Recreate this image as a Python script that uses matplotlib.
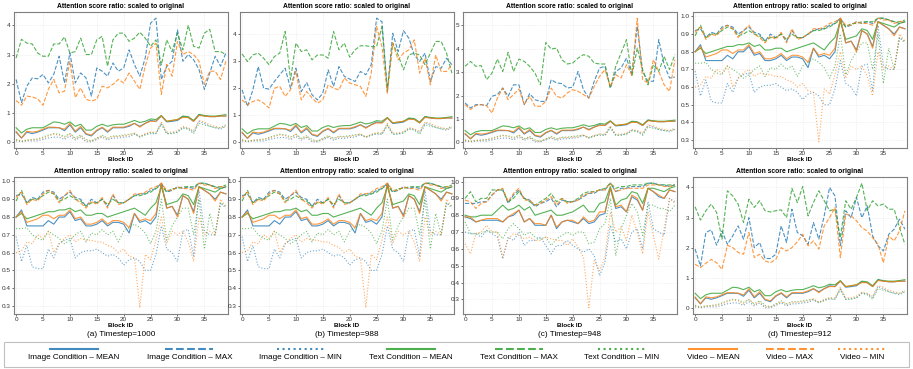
import numpy as np
import matplotlib
matplotlib.use("Agg")
import matplotlib.pyplot as plt
from matplotlib.lines import Line2D
from matplotlib.patches import Rectangle
from matplotlib.ticker import MultipleLocator, FormatStrFormatter

plt.rcParams["font.family"] = ["Liberation Sans", "DejaVu Sans"]

blocks = list(range(40))

captions = ["(a) Timestep=1000", "(b) Timestep=988", "(c) Timestep=948", "(d) Timestep=912"]
score_title = "Attention score ratio: scaled to original"
entropy_title = "Attention entropy ratio: scaled to original"

# ---- score ratio: MEAN / MIN look the same in every timestep ----
score_img_mean = [0.35, 0.15, 0.35, 0.30, 0.35, 0.42, 0.50, 0.50, 0.50, 0.40, 0.60, 0.35, 0.50, 0.28, 0.22,
                  0.40, 0.50, 0.35, 0.50, 0.50, 0.50, 0.55, 0.65, 0.55, 0.65, 0.75, 0.72, 0.90, 0.70, 0.72,
                  0.75, 0.88, 0.85, 0.72, 0.95, 0.90, 0.88, 0.88, 0.90, 0.90]
score_txt_mean = [0.50, 0.32, 0.45, 0.50, 0.50, 0.50, 0.60, 0.70, 0.68, 0.62, 0.70, 0.55, 0.62, 0.42, 0.42,
                  0.55, 0.62, 0.55, 0.60, 0.62, 0.62, 0.68, 0.75, 0.68, 0.72, 0.80, 0.78, 0.92, 0.72, 0.75,
                  0.78, 0.90, 0.88, 0.75, 0.95, 0.92, 0.90, 0.90, 0.92, 0.95]
score_vid_mean = [0.38, 0.15, 0.38, 0.35, 0.38, 0.45, 0.52, 0.52, 0.50, 0.45, 0.65, 0.38, 0.55, 0.30, 0.25,
                  0.42, 0.52, 0.38, 0.52, 0.52, 0.52, 0.58, 0.65, 0.52, 0.65, 0.72, 0.72, 0.90, 0.72, 0.75,
                  0.78, 0.85, 0.85, 0.72, 0.92, 0.90, 0.88, 0.88, 0.90, 0.90]
score_img_min = [0.05, 0.02, 0.05, 0.05, 0.05, 0.10, 0.15, 0.18, 0.18, 0.10, 0.22, 0.08, 0.18, 0.02, 0.02,
                 0.10, 0.18, 0.08, 0.15, 0.15, 0.18, 0.20, 0.28, 0.18, 0.28, 0.30, 0.30, 0.65, 0.30, 0.32,
                 0.35, 0.50, 0.48, 0.35, 0.72, 0.65, 0.55, 0.50, 0.45, 0.55]
score_txt_min = [0.10, 0.05, 0.08, 0.10, 0.12, 0.18, 0.25, 0.30, 0.28, 0.20, 0.30, 0.15, 0.25, 0.10, 0.05,
                 0.15, 0.25, 0.15, 0.22, 0.22, 0.25, 0.28, 0.30, 0.20, 0.25, 0.35, 0.30, 0.62, 0.30, 0.30,
                 0.35, 0.50, 0.45, 0.30, 0.65, 0.60, 0.55, 0.50, 0.50, 0.60]
score_vid_min = [0.08, 0.03, 0.08, 0.08, 0.10, 0.15, 0.22, 0.28, 0.25, 0.15, 0.30, 0.12, 0.22, 0.05, 0.05,
                 0.12, 0.22, 0.12, 0.20, 0.20, 0.22, 0.25, 0.32, 0.20, 0.30, 0.35, 0.35, 0.70, 0.35, 0.35,
                 0.40, 0.55, 0.50, 0.40, 0.75, 0.70, 0.60, 0.55, 0.50, 0.55]

# ---- score ratio MAX, per timestep ----
score_img_max_a = [2.15, 1.36, 1.92, 2.20, 2.17, 2.32, 2.03, 2.32, 2.94, 2.03, 3.05, 2.03, 2.37, 2.20, 1.58,
                   2.54, 2.43, 2.26, 2.71, 2.43, 2.54, 3.16, 2.66, 2.26, 2.88, 4.07, 4.24, 2.15, 2.60, 2.77,
                   3.84, 2.77, 3.00, 2.82, 2.49, 1.81, 2.37, 2.94, 2.60, 3.05]
score_txt_max_a = [2.88, 3.52, 3.39, 3.36, 3.05, 2.94, 2.94, 3.36, 3.36, 3.60, 3.05, 3.10, 3.56, 3.00, 3.00,
                   3.50, 3.62, 2.60, 3.50, 3.73, 3.73, 3.45, 3.56, 3.76, 3.56, 3.28, 3.50, 2.65, 3.50, 3.10,
                   3.73, 3.16, 4.00, 3.28, 3.22, 3.73, 3.86, 3.10, 3.10, 3.00]
score_vid_max_a = [1.43, 1.27, 1.58, 1.55, 1.49, 1.27, 1.81, 2.15, 1.69, 1.75, 2.77, 1.53, 1.86, 1.47, 1.41,
                   1.47, 1.92, 1.86, 1.98, 2.15, 2.03, 2.37, 2.09, 1.81, 2.60, 3.22, 3.39, 1.64, 2.66, 2.26,
                   3.45, 3.00, 3.10, 3.00, 2.77, 1.98, 2.43, 2.43, 2.15, 2.77]

score_img_max_b = [1.94, 1.33, 1.94, 2.80, 2.00, 1.97, 2.25, 2.50, 2.74, 2.00, 2.74, 1.88, 2.21, 1.76, 1.57,
                   1.82, 2.68, 2.07, 2.80, 2.44, 2.34, 2.25, 2.62, 2.50, 2.87, 4.59, 4.46, 1.88, 4.03, 3.36,
                   4.13, 3.85, 3.23, 2.99, 3.30, 2.25, 2.80, 2.74, 3.11, 2.87]
score_txt_max_b = [3.27, 2.99, 3.23, 3.30, 3.11, 2.87, 3.17, 3.30, 4.10, 2.31, 3.67, 3.36, 3.42, 3.05, 3.23,
                   3.23, 3.11, 4.10, 3.42, 3.67, 3.15, 3.42, 3.57, 3.57, 3.54, 3.54, 4.28, 1.94, 3.67, 3.23,
                   2.68, 3.23, 3.30, 3.23, 2.87, 3.30, 3.73, 3.73, 3.30, 2.56]
score_vid_max_b = [1.57, 1.39, 1.51, 1.57, 1.45, 1.27, 2.00, 2.07, 1.70, 1.94, 2.62, 1.57, 1.88, 1.64, 1.45,
                   1.57, 2.13, 2.00, 1.94, 2.38, 2.19, 2.13, 2.07, 1.70, 2.56, 4.28, 3.54, 1.82, 3.67, 3.05,
                   3.30, 3.42, 3.79, 2.56, 3.11, 2.13, 3.23, 2.62, 2.62, 2.87]

score_img_max_c = [1.68, 1.47, 1.61, 1.61, 1.57, 1.97, 2.04, 2.32, 1.97, 2.46, 2.46, 1.61, 2.08, 1.82, 1.75,
                   1.75, 2.68, 2.54, 2.51, 2.32, 2.36, 3.03, 2.25, 1.89, 2.61, 3.18, 3.25, 2.32, 3.03, 3.18,
                   3.60, 2.89, 4.96, 3.03, 2.61, 2.61, 4.39, 3.32, 2.75, 2.79]
score_txt_max_c = [3.25, 3.46, 3.25, 3.28, 2.68, 2.96, 3.56, 3.03, 3.85, 3.03, 3.56, 3.46, 3.25, 2.96, 2.46,
                   4.27, 3.99, 4.03, 3.53, 3.35, 3.39, 3.60, 3.75, 3.68, 3.39, 3.35, 3.35, 2.32, 3.25, 3.82,
                   4.39, 2.82, 4.03, 3.11, 2.46, 3.32, 3.03, 3.68, 3.11, 3.75]
score_vid_max_c = [1.61, 1.40, 1.57, 1.61, 1.57, 1.25, 1.89, 2.32, 1.82, 2.04, 2.28, 1.61, 1.97, 1.54, 1.54,
                   1.75, 2.32, 1.97, 1.89, 2.11, 2.25, 2.18, 2.04, 1.89, 2.39, 2.82, 3.11, 2.39, 2.89, 2.75,
                   3.32, 2.89, 5.31, 2.68, 2.54, 3.53, 3.03, 2.46, 2.18, 3.53]

score_img_max_d = [1.96, 1.40, 2.51, 2.60, 2.09, 2.56, 2.12, 2.40, 2.73, 2.29, 3.00, 2.01, 2.18, 1.65, 1.65,
                   1.79, 2.73, 2.18, 3.28, 2.51, 2.40, 2.12, 2.84, 2.29, 3.06, 4.00, 3.72, 2.07, 3.23, 3.00,
                   3.67, 3.00, 3.39, 2.40, 2.07, 1.90, 2.45, 2.62, 2.95, 2.62]
score_txt_max_d = [3.36, 2.92, 3.23, 3.45, 3.17, 2.29, 3.89, 3.72, 3.45, 2.84, 3.61, 3.34, 3.56, 3.23, 3.19,
                   3.23, 3.26, 3.00, 3.97, 3.50, 4.03, 3.06, 3.50, 3.89, 3.56, 3.23, 3.28, 2.34, 3.56, 3.28,
                   3.67, 4.14, 3.23, 3.56, 3.39, 3.45, 3.28, 3.28, 2.67, 2.12]
score_vid_max_d = [1.46, 1.35, 1.49, 1.62, 1.51, 1.29, 2.09, 2.01, 1.85, 1.79, 2.51, 1.68, 1.79, 1.57, 1.51,
                   1.62, 2.01, 1.90, 2.01, 2.20, 2.45, 2.07, 2.23, 1.96, 2.73, 3.00, 3.34, 1.68, 3.12, 3.06,
                   2.90, 2.67, 2.56, 2.34, 2.12, 1.51, 2.40, 2.23, 2.56, 3.23]

# ---- entropy ratio, timesteps 1000 / 988 / 912 ----
ent_img_max = [0.92, 0.93, 0.88, 0.91, 0.90, 0.94, 0.95, 0.94, 0.90, 0.92, 0.94, 0.91, 0.90, 0.86, 0.90,
               0.88, 0.90, 0.86, 0.92, 0.88, 0.88, 0.90, 0.92, 0.93, 0.93, 0.95, 0.96, 0.99, 0.94, 0.95,
               0.97, 0.96, 0.97, 0.96, 0.99, 0.99, 0.98, 0.97, 0.96, 0.97]
ent_vid_max = [0.91, 0.94, 0.87, 0.90, 0.89, 0.93, 0.95, 0.93, 0.88, 0.92, 0.95, 0.90, 0.88, 0.85, 0.89,
               0.87, 0.91, 0.85, 0.93, 0.87, 0.88, 0.90, 0.93, 0.93, 0.94, 0.96, 0.97, 0.99, 0.95, 0.95,
               0.97, 0.96, 0.96, 0.95, 0.99, 0.98, 0.98, 0.96, 0.97, 0.97]
ent_txt_max = [0.89, 0.95, 0.88, 0.90, 0.90, 0.92, 0.94, 0.93, 0.89, 0.90, 0.92, 0.90, 0.89, 0.86, 0.88,
               0.88, 0.90, 0.87, 0.90, 0.88, 0.88, 0.90, 0.92, 0.92, 0.93, 0.94, 0.96, 0.98, 0.94, 0.96,
               0.96, 0.97, 0.97, 0.97, 0.99, 0.99, 0.98, 0.97, 0.97, 0.98]
ent_txt_mean = [0.80, 0.82, 0.79, 0.80, 0.81, 0.82, 0.83, 0.83, 0.84, 0.84, 0.85, 0.83, 0.84, 0.81, 0.81,
                0.82, 0.82, 0.80, 0.81, 0.82, 0.83, 0.84, 0.85, 0.83, 0.81, 0.85, 0.88, 0.97, 0.87, 0.88,
                0.89, 0.93, 0.92, 0.87, 0.97, 0.96, 0.95, 0.94, 0.96, 0.97]
ent_img_mean = [0.80, 0.84, 0.75, 0.75, 0.75, 0.75, 0.78, 0.76, 0.80, 0.80, 0.83, 0.78, 0.79, 0.75, 0.75,
                0.76, 0.78, 0.75, 0.77, 0.77, 0.76, 0.71, 0.82, 0.77, 0.78, 0.76, 0.80, 0.99, 0.85, 0.86,
                0.81, 0.92, 0.90, 0.83, 0.97, 0.95, 0.93, 0.90, 0.94, 0.93]
ent_vid_mean = [0.80, 0.83, 0.77, 0.78, 0.79, 0.81, 0.81, 0.79, 0.81, 0.81, 0.84, 0.79, 0.80, 0.76, 0.76,
                0.77, 0.79, 0.76, 0.78, 0.78, 0.77, 0.74, 0.82, 0.78, 0.79, 0.78, 0.82, 0.99, 0.85, 0.86,
                0.80, 0.92, 0.90, 0.82, 0.97, 0.95, 0.93, 0.89, 0.94, 0.93]
ent_txt_min = [0.735, 0.735, 0.74, 0.70, 0.68, 0.67, 0.72, 0.70, 0.68, 0.65, 0.67, 0.70, 0.72, 0.66, 0.71,
               0.70, 0.73, 0.70, 0.72, 0.66, 0.72, 0.74, 0.76, 0.74, 0.71, 0.65, 0.72, 0.90, 0.67, 0.75,
               0.80, 0.85, 0.85, 0.70, 0.90, 0.62, 0.82, 0.70, 0.88, 0.86]
ent_vid_min = [0.60, 0.61, 0.66, 0.65, 0.70, 0.68, 0.72, 0.60, 0.65, 0.68, 0.70, 0.66, 0.68, 0.67, 0.67,
               0.66, 0.66, 0.64, 0.63, 0.60, 0.62, 0.58, 0.57, 0.29, 0.59, 0.56, 0.67, 0.80, 0.65, 0.72,
               0.70, 0.72, 0.66, 0.55, 0.80, 0.70, 0.72, 0.70, 0.90, 0.86]
ent_img_min = [0.69, 0.55, 0.64, 0.52, 0.51, 0.51, 0.62, 0.57, 0.65, 0.67, 0.68, 0.57, 0.60, 0.61, 0.61,
               0.62, 0.60, 0.58, 0.59, 0.57, 0.53, 0.56, 0.57, 0.55, 0.50, 0.50, 0.59, 0.75, 0.62, 0.60,
               0.55, 0.72, 0.73, 0.58, 0.95, 0.72, 0.70, 0.70, 0.88, 0.85]

# ---- entropy ratio, timestep 948 ----
ent_img_max_c = [0.87, 0.87, 0.87, 0.88, 0.88, 0.92, 0.95, 0.95, 0.87, 0.92, 0.95, 0.90, 0.89, 0.85, 0.87,
                 0.88, 0.90, 0.85, 0.89, 0.88, 0.88, 0.89, 0.91, 0.93, 0.93, 0.95, 0.95, 0.99, 0.94, 0.96,
                 0.96, 0.97, 0.97, 0.97, 0.99, 0.99, 0.98, 0.98, 0.97, 0.98]
ent_vid_max_c = [0.89, 0.88, 0.84, 0.87, 0.88, 0.92, 0.95, 0.96, 0.88, 0.93, 0.96, 0.89, 0.89, 0.86, 0.87,
                 0.89, 0.91, 0.86, 0.90, 0.87, 0.88, 0.89, 0.92, 0.93, 0.94, 0.95, 0.95, 0.99, 0.94, 0.95,
                 0.96, 0.96, 0.96, 0.96, 0.98, 0.98, 0.98, 0.97, 0.97, 0.98]
ent_txt_max_c = [0.90, 0.94, 0.88, 0.90, 0.90, 0.95, 0.95, 0.95, 0.88, 0.90, 0.94, 0.90, 0.88, 0.86, 0.88,
                 0.90, 0.93, 0.88, 0.90, 0.88, 0.88, 0.90, 0.93, 0.94, 0.94, 0.95, 0.96, 0.99, 0.96, 0.97,
                 0.97, 0.98, 0.98, 0.98, 0.99, 0.99, 0.98, 0.98, 0.98, 0.98]
ent_txt_mean_c = [0.80, 0.79, 0.79, 0.80, 0.80, 0.80, 0.83, 0.86, 0.83, 0.84, 0.86, 0.83, 0.85, 0.80, 0.81,
                  0.82, 0.83, 0.80, 0.80, 0.81, 0.82, 0.84, 0.86, 0.82, 0.82, 0.87, 0.88, 0.97, 0.86, 0.89,
                  0.90, 0.94, 0.93, 0.87, 0.96, 0.96, 0.95, 0.94, 0.96, 0.97]
ent_img_mean_c = [0.79, 0.78, 0.76, 0.77, 0.77, 0.77, 0.77, 0.76, 0.79, 0.80, 0.83, 0.76, 0.78, 0.74, 0.74,
                  0.74, 0.80, 0.72, 0.76, 0.77, 0.76, 0.75, 0.78, 0.75, 0.76, 0.80, 0.81, 0.96, 0.84, 0.85,
                  0.82, 0.91, 0.89, 0.83, 0.96, 0.94, 0.91, 0.90, 0.95, 0.94]
ent_vid_mean_c = [0.79, 0.79, 0.76, 0.77, 0.78, 0.78, 0.78, 0.76, 0.79, 0.81, 0.83, 0.76, 0.78, 0.75, 0.75,
                  0.74, 0.80, 0.73, 0.76, 0.77, 0.77, 0.75, 0.79, 0.76, 0.77, 0.82, 0.82, 0.96, 0.85, 0.86,
                  0.82, 0.92, 0.90, 0.83, 0.96, 0.94, 0.92, 0.90, 0.95, 0.94]
ent_txt_min_c = [0.76, 0.69, 0.69, 0.69, 0.71, 0.70, 0.70, 0.66, 0.72, 0.75, 0.72, 0.68, 0.70, 0.67, 0.66,
                 0.67, 0.62, 0.66, 0.68, 0.70, 0.68, 0.70, 0.70, 0.63, 0.64, 0.72, 0.75, 0.90, 0.56, 0.72,
                 0.80, 0.87, 0.82, 0.68, 0.86, 0.86, 0.84, 0.84, 0.82, 0.86]
ent_vid_min_c = [0.63, 0.57, 0.69, 0.70, 0.74, 0.70, 0.70, 0.55, 0.66, 0.69, 0.68, 0.66, 0.67, 0.65, 0.65,
                 0.67, 0.66, 0.65, 0.65, 0.62, 0.66, 0.61, 0.55, 0.25, 0.53, 0.47, 0.55, 0.82, 0.70, 0.73,
                 0.65, 0.80, 0.70, 0.57, 0.82, 0.68, 0.54, 0.72, 0.90, 0.87]
ent_img_min_c = [0.70, 0.69, 0.69, 0.67, 0.71, 0.69, 0.67, 0.54, 0.67, 0.65, 0.70, 0.62, 0.65, 0.65, 0.67,
                 0.62, 0.57, 0.62, 0.62, 0.65, 0.62, 0.60, 0.58, 0.60, 0.56, 0.44, 0.52, 0.74, 0.64, 0.66,
                 0.60, 0.70, 0.72, 0.60, 0.88, 0.72, 0.70, 0.68, 0.90, 0.88]

COLORS = {"img": "#1f77b4", "txt": "#2ca02c", "vid": "#ff7f0e"}
STYLES = {"MEAN": "-", "MAX": "--", "MIN": ":"}
NAMES = {"img": "Image Condition", "txt": "Text Condition", "vid": "Video"}


def score_panel(img_max, txt_max, vid_max):
    return {
        ("img", "MEAN"): score_img_mean, ("img", "MAX"): img_max, ("img", "MIN"): score_img_min,
        ("txt", "MEAN"): score_txt_mean, ("txt", "MAX"): txt_max, ("txt", "MIN"): score_txt_min,
        ("vid", "MEAN"): score_vid_mean, ("vid", "MAX"): vid_max, ("vid", "MIN"): score_vid_min,
    }


entropy_early = {
    ("img", "MEAN"): ent_img_mean, ("img", "MAX"): ent_img_max, ("img", "MIN"): ent_img_min,
    ("txt", "MEAN"): ent_txt_mean, ("txt", "MAX"): ent_txt_max, ("txt", "MIN"): ent_txt_min,
    ("vid", "MEAN"): ent_vid_mean, ("vid", "MAX"): ent_vid_max, ("vid", "MIN"): ent_vid_min,
}
entropy_948 = {
    ("img", "MEAN"): ent_img_mean_c, ("img", "MAX"): ent_img_max_c, ("img", "MIN"): ent_img_min_c,
    ("txt", "MEAN"): ent_txt_mean_c, ("txt", "MAX"): ent_txt_max_c, ("txt", "MIN"): ent_txt_min_c,
    ("vid", "MEAN"): ent_vid_mean_c, ("vid", "MAX"): ent_vid_max_c, ("vid", "MIN"): ent_vid_min_c,
}

# (column, row, kind, series)
panels = [
    (0, 0, "score", score_panel(score_img_max_a, score_txt_max_a, score_vid_max_a)),
    (1, 0, "score", score_panel(score_img_max_b, score_txt_max_b, score_vid_max_b)),
    (2, 0, "score", score_panel(score_img_max_c, score_txt_max_c, score_vid_max_c)),
    (3, 0, "entropy", entropy_early),
    (0, 1, "entropy", entropy_early),
    (1, 1, "entropy", entropy_early),
    (2, 1, "entropy", entropy_948),
    (3, 1, "score", score_panel(score_img_max_d, score_txt_max_d, score_vid_max_d)),
]

W, H = 913, 369
fig = plt.figure(figsize=(W / 100, H / 100), dpi=100)

col_left = [14, 240, 463, 693]
col_width = 214
row_top = [12, 177]
row_height = [136, 137]

for col, row, kind, series in panels:
    l = col_left[col] / W
    b = 1 - (row_top[row] + row_height[row]) / H
    ax = fig.add_axes([l, b, col_width / W, row_height[row] / H])
    for mod in ["img", "txt", "vid"]:
        for stat in ["MIN", "MAX", "MEAN"]:
            ax.plot(blocks, series[(mod, stat)], color=COLORS[mod], linestyle=STYLES[stat],
                    linewidth=0.8, alpha=0.8 if stat != "MIN" else 0.65)
    ax.margins(x=0.01)
    ax.set_xticks(range(0, 40, 5))
    if kind == "score":
        ax.yaxis.set_major_locator(MultipleLocator(1))
        ax.set_title(score_title, fontsize=4.9, fontweight="bold", pad=3)
    else:
        ax.yaxis.set_major_locator(MultipleLocator(0.1))
        ax.yaxis.set_major_formatter(FormatStrFormatter("%.1f"))
        ax.set_title(entropy_title, fontsize=4.9, fontweight="bold", pad=3)
    ax.set_xlabel("Block ID", fontsize=4.5, fontweight="bold", labelpad=0.5)
    ax.tick_params(labelsize=4.6, length=1.5, width=0.5, pad=1, colors="#333333")
    ax.grid(True, color="#e4e4e4", linestyle=":", linewidth=0.5)
    ax.set_axisbelow(True)
    for sp in ax.spines.values():
        sp.set_color("#7f7f7f")
        sp.set_linewidth(0.8)

for col, cap in enumerate(captions):
    fig.text((col_left[col] + col_width / 2) / W, 1 - 334 / H, cap, fontsize=5.9,
             ha="center", va="center")

# legend drawn by hand: handle above each label
lax = fig.add_axes([0, 0, 1, 1], facecolor="none")
lax.set_xlim(0, W)
lax.set_ylim(H, 0)
lax.axis("off")
lax.add_patch(Rectangle((4, 342), 905, 25, fill=False, edgecolor="#c0c0c0", linewidth=0.8))

entries = [(m, s) for m in ["img", "txt", "vid"] for s in ["MEAN", "MAX", "MIN"]]
texts = [lax.text(0, 357.5, f"{NAMES[m]} \u2013 {s}", fontsize=5.9, ha="left", va="center")
         for m, s in entries]
renderer = fig.canvas.get_renderer()
widths = [t.get_window_extent(renderer).width for t in texts]
gap = 27
x = W / 2 - (sum(widths) + gap * (len(widths) - 1)) / 2
for (m, s), t, w in zip(entries, texts, widths):
    t.set_x(x)
    cx = x + w / 2
    lax.add_line(Line2D([cx - 24, cx + 24], [348.5, 348.5], color=COLORS[m],
                        linestyle=STYLES[s], linewidth=1.5, alpha=0.85))
    x += w + gap

fig.savefig("out.png", dpi=100)
